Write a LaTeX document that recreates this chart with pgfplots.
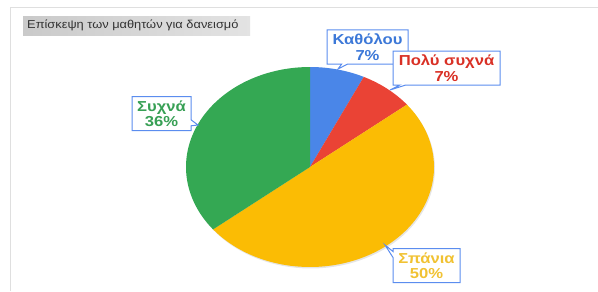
\documentclass[border=0pt]{standalone}
\usepackage{fontspec}
\setmainfont{Liberation Sans}
\newfontfamily\labfont[FakeStretch=1.15]{Liberation Sans}
\newfontfamily\titfont[FakeStretch=1.12]{Liberation Sans}
\usepackage{pgfplots}
\pgfplotsset{compat=1.18}
\usetikzlibrary{shapes.callouts}
\definecolor{pblue}{HTML}{4A86E8}
\definecolor{pred}{HTML}{EA4335}
\definecolor{pyellow}{HTML}{FBBC04}
\definecolor{pgreen}{HTML}{34A853}
\definecolor{tblue}{HTML}{3C78D8}
\definecolor{tred}{HTML}{D93025}
\definecolor{tyellow}{HTML}{F1C232}
\definecolor{tgreen}{HTML}{38A055}
\definecolor{bblue}{HTML}{5B8DEF}
\tikzset{lab/.style={rectangle callout, draw=bblue, line width=1bp, fill=white, inner sep=1bp,
    minimum height=34bp, align=center, callout pointer width=6bp,
    font=\labfont\bfseries\fontsize{14.5}{15.5}\selectfont}}
\begin{document}
\begin{tikzpicture}
% values (percent)
\def\vKatholou{7.14}
\def\vPolu{7.14}
\def\vSpania{50}
\def\vSuxna{35.72}
\pgfmathsetmacro\aA{90}
\pgfmathsetmacro\aB{\aA-3.6*\vKatholou}
\pgfmathsetmacro\aC{\aB-3.6*\vPolu}
\pgfmathsetmacro\aD{\aC-3.6*\vSpania}
\pgfmathsetmacro\aE{\aD-3.6*\vSuxna}
\begin{axis}[x=1bp,y=1bp,xmin=0,xmax=598,ymin=0,ymax=291,hide axis,clip=false]
\addplot[draw=none, fill=black!10, domain=0:360, samples=120] ({311+124*cos(x)},{122.5+100*sin(x)}) -- cycle;
\addplot[draw=none, fill=pblue, domain=\aB:\aA, samples=30] ({310+124*cos(x)},{124+100*sin(x)}) -- (axis cs:310,124) -- cycle;
\addplot[draw=none, fill=pred, domain=\aC:\aB, samples=30] ({310+124*cos(x)},{124+100*sin(x)}) -- (axis cs:310,124) -- cycle;
\addplot[draw=none, fill=pyellow, domain=\aD:\aC, samples=90] ({310+124*cos(x)},{124+100*sin(x)}) -- (axis cs:310,124) -- cycle;
\addplot[draw=none, fill=pgreen, domain=\aE:\aD, samples=80] ({310+124*cos(x)},{124+100*sin(x)}) -- (axis cs:310,124) -- cycle;
% frame
\draw[gray!25, line width=1bp] (axis cs:10,0) -- (axis cs:10,283) -- (axis cs:598,283);
% title
\shade[left color=gray!42, right color=gray!22] (axis cs:23,256) rectangle (axis cs:250,274);
\node[anchor=west, inner sep=0pt, text=black!80, font=\titfont\fontsize{11.5}{13}\selectfont] at (axis cs:27,265.5) {Επίσκεψη των μαθητών για δανεισμό};
% labels
\node[lab, text=tblue, minimum width=81bp, callout absolute pointer={(axis cs:338,222)}] at (axis cs:367.5,244) {Καθόλου\\7\%};
\node[lab, text=tred, minimum width=107bp, callout absolute pointer={(axis cs:390,201)}] at (axis cs:446.5,223) {Πολύ συχνά\\7\%};
\node[lab, text=tgreen, minimum width=59bp, callout absolute pointer={(axis cs:198,166)}] at (axis cs:161.5,177.5) {Συχνά\\36\%};
\node[lab, text=tyellow, minimum width=67bp, callout absolute pointer={(axis cs:385,46)}] at (axis cs:426.5,25.5) {Σπάνια\\50\%};
\coordinate (LL) at (axis cs:0,0);
\coordinate (UR) at (axis cs:598,291);
\end{axis}
\pgfresetboundingbox
\path[use as bounding box] (LL) rectangle (UR);
\end{tikzpicture}
\end{document}
